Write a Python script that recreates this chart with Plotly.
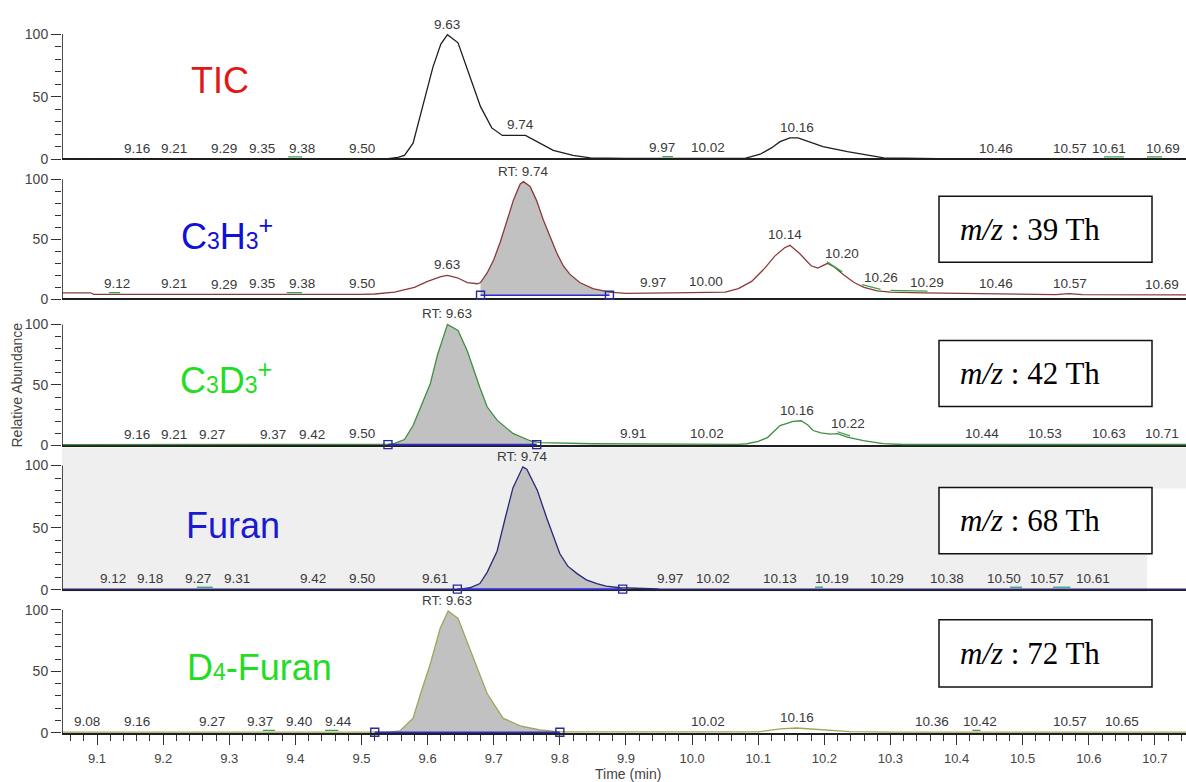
import numpy as np
import plotly.graph_objects as go

W = 1186
REF_H = 782          # height of the target picture
H = 791              # figure height (renderer compresses vertically slightly)

# ---------------- data ----------------
x_range = [9.047, 10.747]

# Panel 1: TIC
tic_t = [9.047, 9.30, 9.50, 9.54, 9.555, 9.565, 9.578, 9.59, 9.60, 9.608, 9.62, 9.63, 9.646, 9.66, 9.68,
         9.697, 9.713, 9.748, 9.77, 9.79, 9.82, 9.846, 9.90, 10.00, 10.08, 10.103, 10.12, 10.133, 10.148,
         10.16, 10.18, 10.198, 10.235, 10.274, 10.29, 10.40, 10.60, 10.747]
tic_y = [0.3, 0.3, 0.3, 0.5, 1.5, 3, 12.8, 37, 57, 73.6, 92, 99.5, 93, 72, 42,
         25, 19, 19, 13, 7, 3, 1, 0.6, 0.6, 0.6, 4, 9, 14, 17,
         17, 13, 10, 6, 2.4, 1, 0.3, 0.3, 0.3]
tic_lab = ["9.16", "9.21", "9.29", "9.35", "9.38", "9.50", "9.63", "9.74", "9.97", "10.02", "10.16",
           "10.46", "10.57", "10.61", "10.69"]
tic_lab_x = [9.16, 9.216, 9.292, 9.35, 9.41, 9.50, 9.63, 9.74, 9.955, 10.024, 10.159,
             10.459, 10.572, 10.63, 10.712]
tic_marks = [(9.389, 9.41), (9.955, 9.971), (10.623, 10.653), (10.688, 10.711)]

# Panel 2: C3H3+ (m/z 39)
c3h3_t = [9.047, 9.09, 9.095, 9.30, 9.50, 9.52, 9.55, 9.58, 9.60, 9.62, 9.63, 9.645, 9.66, 9.675, 9.68,
          9.69, 9.70, 9.71, 9.72, 9.73, 9.74, 9.745, 9.755, 9.765, 9.775, 9.785, 9.795, 9.805, 9.815,
          9.83, 9.85, 9.875, 9.90, 9.97, 10.00, 10.05, 10.07, 10.09, 10.11, 10.125, 10.14, 10.148, 10.163,
          10.18, 10.19, 10.205, 10.215, 10.23, 10.245, 10.26, 10.28, 10.30, 10.35, 10.45, 10.55, 10.57,
          10.59, 10.747]
c3h3_y = [5.5, 5.5, 4.2, 4.0, 4.2, 4.5, 6, 10, 15, 19, 20, 18, 14, 13, 14,
          22, 33, 48, 65, 83, 96, 98, 94, 82, 66, 52, 39, 28, 21,
          14, 9, 6, 5, 5.5, 5.5, 6, 9, 15, 26, 36, 43, 45, 38,
          28, 26, 30, 27, 20, 14, 10, 7, 6, 5.5, 4.5, 4.0, 4.8,
          4.0, 3.8]
c3h3_lab = ["9.12", "9.21", "9.29", "9.35", "9.38", "9.50", "9.63", "RT: 9.74", "9.97", "10.00", "10.14",
            "10.20", "10.26", "10.29", "10.46", "10.57", "10.69"]
c3h3_lab_x = [9.13, 9.216, 9.292, 9.35, 9.41, 9.50, 9.63, 9.745, 9.941, 10.021, 10.14,
              10.227, 10.285, 10.356, 10.459, 10.572, 10.711]
c3h3_marks = [(9.118, 9.135), (9.387, 9.41), (10.204, 10.227), (10.257, 10.285), (10.30, 10.356)]

# Panel 3: C3D3+ (m/z 42)
c3d3_t = [9.047, 9.50, 9.54, 9.548, 9.565, 9.578, 9.59, 9.604, 9.615, 9.63, 9.646, 9.66, 9.679, 9.69,
          9.705, 9.729, 9.755, 9.77, 9.85, 9.95, 10.07, 10.083, 10.10, 10.114, 10.125, 10.133, 10.153,
          10.165, 10.175, 10.183, 10.195, 10.209, 10.22, 10.235, 10.259, 10.289, 10.32, 10.747]
c3d3_y = [0.8, 0.8, 1.0, 1.5, 5, 16.5, 32, 51, 75, 100, 95, 78, 48, 32,
          21, 10, 4, 2.5, 1.5, 1.0, 1.0, 1.5, 3.5, 6.6, 12, 16.5, 20,
          20.5, 17, 12.4, 10.5, 9.5, 9.9, 7, 4, 1.6, 0.9, 0.9]
c3d3_lab = ["9.16", "9.21", "9.27", "9.37", "9.42", "9.50", "RT: 9.63", "9.91", "10.02", "10.16", "10.22",
            "10.44", "10.53", "10.63", "10.71"]
c3d3_lab_x = [9.16, 9.216, 9.274, 9.366, 9.425, 9.50, 9.63, 9.911, 10.023, 10.159, 10.236,
              10.439, 10.534, 10.63, 10.711]
c3d3_marks = [(10.22, 10.239)]

# Panel 4: Furan (m/z 68)
furan_t = [9.047, 9.65, 9.664, 9.679, 9.69, 9.705, 9.717, 9.729, 9.744, 9.75, 9.766, 9.78, 9.80, 9.812,
           9.826, 9.84, 9.856, 9.87, 9.891, 9.95, 10.747]
furan_y = [0.5, 0.5, 1.6, 5, 14, 31, 57, 82, 99, 97, 80, 58, 29, 19,
           13, 8, 5, 3, 1.6, 0.6, 0.5]
furan_lab = ["9.12", "9.18", "9.27", "9.31", "9.42", "9.50", "9.61", "RT: 9.74", "9.97", "10.02", "10.13",
             "10.19", "10.29", "10.38", "10.50", "10.57", "10.61"]
furan_lab_x = [9.124, 9.18, 9.253, 9.312, 9.427, 9.50, 9.611, 9.744, 9.967, 10.032, 10.133,
               10.212, 10.295, 10.386, 10.471, 10.537, 10.607]
furan_marks = [(9.251, 9.275), (10.186, 10.198), (10.481, 10.499), (10.546, 10.572)]

# Panel 5: D4-Furan (m/z 72)
d4_t = [9.047, 9.54, 9.558, 9.578, 9.59, 9.604, 9.619, 9.631, 9.646, 9.669, 9.69, 9.714, 9.74, 9.77,
        9.80, 10.10, 10.12, 10.133, 10.158, 10.19, 10.208, 10.238, 10.30, 10.747]
d4_y = [0.6, 0.6, 1.6, 12, 33, 56, 85, 99, 93, 61, 32, 12, 5.7, 2.4,
        0.8, 0.8, 2.5, 3.3, 4, 3, 2.4, 1, 0.6, 0.6]
d4_lab = ["9.08", "9.16", "9.27", "9.37", "9.40", "9.44", "RT: 9.63", "10.02", "10.16", "10.36", "10.42",
          "10.57", "10.65"]
d4_lab_x = [9.085, 9.16, 9.274, 9.347, 9.406, 9.465, 9.63, 10.024, 10.159, 10.363, 10.436,
            10.572, 10.65]
d4_marks = [(9.351, 9.369), (9.445, 9.465), (10.424, 10.436)]

# integration limits (start, end, baseline level); None = no integrated peak
tic_int = None
c3h3_int = (9.68, 9.875, 3.5)
c3d3_int = (9.54, 9.765, 0.8)
furan_int = (9.645, 9.895, 0.5)
d4_int = (9.52, 9.80, 0.6)

mz_texts = ["39", "42", "68", "72"]

# ---------------- layout helpers ----------------
XL = 62  # left pixel of plot area


def py2paper(py):
    return 1 - py / REF_H


def px2paper(px):
    return px / W


panels = [
    dict(t=tic_t, y=tic_y, lab=tic_lab, labx=tic_lab_x, marks=tic_marks, integ=tic_int,
         color="#1e1e1e", mcol="#3aa04a", p0=159, p100=34, ymin=-1, ymax=114),
    dict(t=c3h3_t, y=c3h3_y, lab=c3h3_lab, labx=c3h3_lab_x, marks=c3h3_marks, integ=c3h3_int,
         color="#8a3a3a", mcol="#3aa04a", p0=299, p100=179, ymin=-1, ymax=114),
    dict(t=c3d3_t, y=c3d3_y, lab=c3d3_lab, labx=c3d3_lab_x, marks=c3d3_marks, integ=c3d3_int,
         color="#3f8f3f", mcol="#3aa04a", p0=445, p100=324, ymin=-1, ymax=115.5),
    dict(t=furan_t, y=furan_y, lab=furan_lab, labx=furan_lab_x, marks=furan_marks, integ=furan_int,
         color="#28287a", mcol="#3a9a8a", p0=589, p100=465, ymin=-1, ymax=113.5),
    dict(t=d4_t, y=d4_y, lab=d4_lab, labx=d4_lab_x, marks=d4_marks, integ=d4_int,
         color="#a3a35a", mcol="#3aa04a", p0=732, p100=609, ymin=0, ymax=113.5),
]

fig = go.Figure()
shapes = []
annotations = []

shapes.append(dict(type="rect", xref="paper", yref="paper", layer="below",
                   x0=px2paper(XL), x1=px2paper(1147), y0=py2paper(591), y1=py2paper(447),
                   fillcolor="#efefef", line=dict(width=0)))
shapes.append(dict(type="rect", xref="paper", yref="paper", layer="below",
                   x0=px2paper(1146), x1=1, y0=py2paper(488), y1=py2paper(447),
                   fillcolor="#efefef", line=dict(width=0)))

FONT = "Arial, Liberation Sans, sans-serif"
label_font = dict(family=FONT, size=13.5, color="#3a3a3a")

for i, p in enumerate(panels, start=1):
    ya = "y" if i == 1 else f"y{i}"
    t = np.array(p["t"], dtype=float)
    y = np.array(p["y"], dtype=float)
    s = (p["p0"] - p["p100"]) / 100.0
    bot_py = p["p0"] - p["ymin"] * s
    top_py = p["p0"] - p["ymax"] * s

    if p["integ"] is not None:
        ts, te, yb = p["integ"]
        inside = (t > ts) & (t < te)
        fx = [ts, ts] + list(t[inside]) + [te, te]
        fy = [yb, float(np.interp(ts, t, y))] + list(y[inside]) + [float(np.interp(te, t, y)), yb]
        fig.add_trace(go.Scatter(x=fx, y=fy, yaxis=ya, xaxis="x", mode="lines", fill="toself",
                                 fillcolor="#c1c1c1", line=dict(width=0), hoverinfo="skip",
                                 showlegend=False))
    fig.add_trace(go.Scatter(x=t, y=y, yaxis=ya, xaxis="x", mode="lines",
                             line=dict(color=p["color"], width=1.3), showlegend=False))

    # small green peak-flag marks along the trace
    mx, my = [], []
    for a, b in p["marks"]:
        xs = [a, b]
        mx += xs + [None]
        my += [float(np.interp(a, t, y)) + 1.5, float(np.interp(b, t, y)) + 1.5] + [None]
    if mx:
        fig.add_trace(go.Scatter(x=mx, y=my, yaxis=ya, xaxis="x", mode="lines",
                                 line=dict(color=p["mcol"], width=1.3), showlegend=False,
                                 hoverinfo="skip"))

    if p["integ"] is not None:
        ts, te, yb = p["integ"]
        fig.add_trace(go.Scatter(x=[ts, te], y=[yb, yb], yaxis=ya, xaxis="x", mode="lines+markers",
                                 line=dict(color="#2b2bd0", width=1.6),
                                 marker=dict(symbol="square-open", size=8, color="#2a2a9a",
                                             line=dict(width=1.4)),
                                 cliponaxis=False, showlegend=False))

    for txt, lx in zip(p["lab"], p["labx"]):
        win = np.linspace(lx - 0.02, lx + 0.02, 41)
        ly = float(np.max(np.interp(win, t, y)))
        annotations.append(dict(x=lx, y=ly, xref="x", yref=ya, text=txt, showarrow=False,
                                yanchor="bottom", xanchor="center", yshift=1, font=label_font))

    axis = dict(domain=[py2paper(bot_py), py2paper(top_py)], range=[p["ymin"], p["ymax"]],
                anchor="x", showgrid=False, showline=False,
                zeroline=(i != 5), zerolinecolor="#202020", zerolinewidth=1.6,
                tickmode="array", tickvals=[0, 50, 100], ticktext=["0", "50", "100"],
                ticks="outside", ticklen=10, tickwidth=1.3, tickcolor="#333",
                tickfont=dict(family=FONT, size=14, color="#444"),
                minor=dict(tickmode="array", tickvals=[10, 20, 30, 40, 60, 70, 80, 90],
                           ticks="outside", ticklen=6, tickwidth=1.2, tickcolor="#333"),
                fixedrange=True)
    key = "yaxis" if i == 1 else f"yaxis{i}"
    fig.layout[key] = axis

    shapes.append(dict(type="line", xref="x", yref=ya, x0=x_range[0], x1=x_range[0], y0=0, y1=100,
                       line=dict(color="#222", width=1.6)))


def small(txt):
    return f"<span style='font-size:23px'>{txt}</span>"


titles = [
    ("TIC", "#e01818", 220, 80),
    ("C" + small("3") + "H" + small("3") + "<sup>+</sup>", "#1010d8", 227, 234),
    ("C" + small("3") + "D" + small("3") + "<sup>+</sup>", "#22dd22", 226, 378),
    ("Furan", "#1a1ad0", 233, 525),
    ("D" + small("4") + "-Furan", "#22dd22", 259, 667),
]
for txt, col, cx, cy in titles:
    annotations.append(dict(x=px2paper(cx), y=py2paper(cy), xref="paper", yref="paper", text=txt,
                            showarrow=False, xanchor="center", yanchor="middle",
                            font=dict(family=FONT, size=36, color=col)))

box_rows = [(196, 262), (340, 406), (487, 553), (619, 686)]
for mz, (b0, b1) in zip(mz_texts, box_rows):
    shapes.append(dict(type="rect", xref="paper", yref="paper",
                       x0=px2paper(939), x1=px2paper(1152), y0=py2paper(b1), y1=py2paper(b0),
                       fillcolor="white", line=dict(color="#111", width=1.5)))
    annotations.append(dict(x=px2paper(958), y=py2paper((b0 + b1) / 2), xref="paper", yref="paper",
                            text=f"<i>m/z</i> : {mz} Th", showarrow=False, xanchor="left",
                            yanchor="middle",
                            font=dict(family="Liberation Serif, Times New Roman, serif", size=31,
                                      color="#000")))

annotations.append(dict(x=px2paper(17), y=py2paper(385), xref="paper", yref="paper",
                        text="Relative Abundance", textangle=-90, showarrow=False,
                        xanchor="center", yanchor="middle",
                        font=dict(family=FONT, size=14, color="#444")))
annotations.append(dict(x=px2paper(628), y=py2paper(773), xref="paper", yref="paper",
                        text="Time (min)", showarrow=False, xanchor="center", yanchor="middle",
                        font=dict(family=FONT, size=14, color="#444")))

fig.update_layout(
    width=W, height=H, autosize=False,
    margin=dict(l=0, r=0, t=0, b=0, pad=0),
    paper_bgcolor="white", plot_bgcolor="rgba(0,0,0,0)",
    showlegend=False,
    xaxis=dict(domain=[px2paper(XL), 1], range=x_range, anchor="y5",
               showgrid=False, zeroline=False, showline=True, linecolor="#202020", linewidth=1.6,
               tickmode="linear", tick0=9.0, dtick=0.1, tickformat=".1f",
               ticks="outside", ticklen=10, tickwidth=1.3, tickcolor="#333",
               ticklabelstandoff=3,
               tickfont=dict(family=FONT, size=13, color="#444"),
               minor=dict(tick0=9.0, dtick=0.02, ticks="outside", ticklen=6, tickwidth=1.1,
                          tickcolor="#333"),
               fixedrange=True),
    shapes=shapes,
    annotations=annotations,
)

fig.write_html("out.html",
               config={"displayModeBar": False, "responsive": False},
               post_script="document.body.style.margin='0';document.body.style.padding='0';"
                           "document.body.style.overflow='hidden';")
